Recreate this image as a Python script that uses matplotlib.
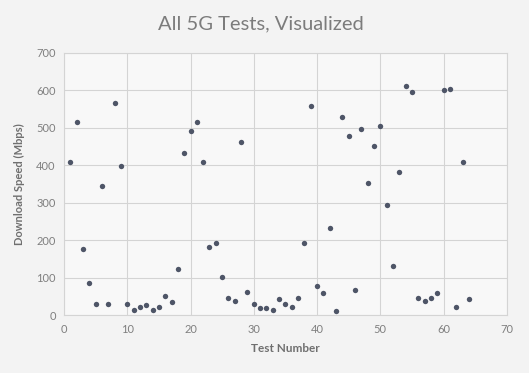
import matplotlib.pyplot as plt

test_number = list(range(1, 65))
speed_mbps = [408, 515, 178, 85, 31, 344, 29, 566, 398, 29,
              15, 21, 26, 13, 23, 50, 34, 122, 432, 491,
              515, 408, 181, 194, 101, 45, 37, 462, 63, 31,
              18, 18, 13, 42, 29, 23, 45, 192, 558, 77,
              58, 232, 11, 529, 478, 66, 497, 353, 451, 504,
              293, 130, 381, 611, 597, 45, 39, 47, 58, 601,
              604, 23, 408, 42]

plt.rcParams['font.family'] = ['Lato', 'DejaVu Sans']

fig = plt.figure(figsize=(5.29, 3.73), dpi=100, facecolor='#f3f3f3')
ax = fig.add_axes([0.121, 0.155, 0.837, 0.703])
ax.set_facecolor('#f8f8f8')

ax.scatter(test_number, speed_mbps, s=15, color='#4e5567', zorder=3, linewidths=0)

ax.set_xlim(0, 70)
ax.set_ylim(0, 700)
ax.set_xticks(range(0, 71, 10))
ax.set_yticks(range(0, 701, 100))
ax.grid(True, color='#d4d4d4', linewidth=0.8)
ax.set_axisbelow(True)
for s in ax.spines.values():
    s.set_color('#d4d4d4')
    s.set_linewidth(0.8)
ax.tick_params(length=0, colors='#7f7f7f', labelsize=8, pad=6)

fig.text(0.494, 0.936, 'All 5G Tests, Visualized', fontsize=14.5, color='#7c7c7c',
         ha='center', va='center')
ax.set_xlabel('Test Number', fontsize=8.5, color='#6f6f6f', fontweight='bold', labelpad=6)
ax.set_ylabel('Download Speed (Mbps)', fontsize=8, color='#6f6f6f', fontweight='bold', labelpad=8)

fig.savefig('out.png', dpi=100, facecolor=fig.get_facecolor())
